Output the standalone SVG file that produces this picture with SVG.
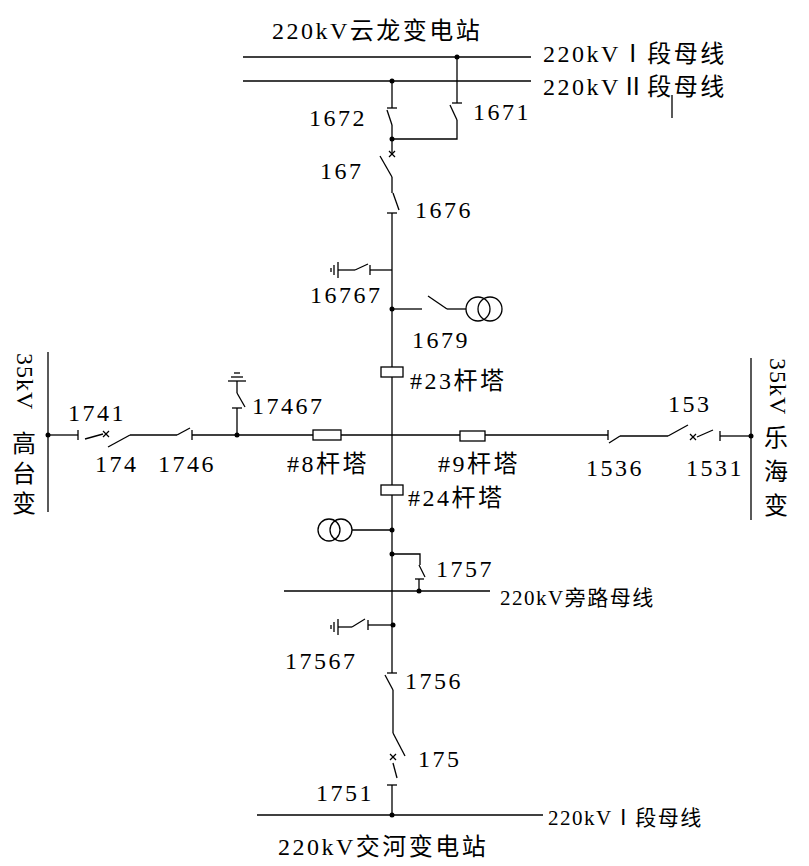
<svg xmlns="http://www.w3.org/2000/svg" width="809" height="866" viewBox="0 0 809 866">
<style>
line,polyline,path{stroke:#000;stroke-width:1.3;fill:none}
circle.t{stroke:#000;stroke-width:1.3;fill:none}
circle.d{fill:#000}
rect{fill:#fff;stroke:#000;stroke-width:1.3}
text{font-family:"Liberation Serif","Noto Sans CJK SC",serif;font-size:24px;letter-spacing:2.5px;fill:#000}
.s{font-size:21px;letter-spacing:1.5px}
.v{letter-spacing:1px}
</style>
<rect x="0" y="0" width="809" height="866" style="fill:#fff;stroke:none"/>
<g id="connectors">
<line x1="243" y1="57" x2="531" y2="57"/>
<line x1="243" y1="81" x2="531" y2="81"/>
<line x1="672" y1="95" x2="672" y2="118"/>
<line x1="392" y1="81" x2="392" y2="108"/>
<line x1="387" y1="108" x2="397" y2="108"/>
<line x1="387" y1="110" x2="392" y2="125"/>
<polyline points="392,125 392,139 457,139 457,120"/>
<line x1="450" y1="105" x2="457" y2="120"/>
<line x1="457" y1="57" x2="457" y2="103"/>
<line x1="452" y1="103" x2="462" y2="103"/>
<line x1="392" y1="139" x2="392" y2="154"/>
<line x1="389" y1="151" x2="395" y2="157"/>
<line x1="395" y1="151" x2="389" y2="157"/>
<line x1="380" y1="156" x2="392" y2="177"/>
<line x1="392" y1="177" x2="392" y2="193"/>
<line x1="393" y1="193" x2="399" y2="210"/>
<line x1="387" y1="213" x2="397" y2="213"/>
<line x1="392" y1="213" x2="392" y2="673"/>
<line x1="392" y1="270" x2="370" y2="270"/>
<line x1="370" y1="265" x2="370" y2="275"/>
<line x1="355" y1="270" x2="368" y2="264"/>
<line x1="355" y1="270" x2="338" y2="270"/>
<line x1="338" y1="262" x2="338" y2="278"/>
<line x1="334" y1="265" x2="334" y2="275"/>
<line x1="331" y1="268" x2="331" y2="272"/>
<line x1="392" y1="309" x2="422" y2="309"/>
<line x1="428" y1="296" x2="447" y2="309"/>
<line x1="447" y1="309" x2="466" y2="309"/>
<line x1="48" y1="435" x2="78" y2="435"/>
<line x1="78" y1="430" x2="78" y2="440"/>
<line x1="85" y1="439" x2="103" y2="434"/>
<line x1="103" y1="431" x2="109" y2="437"/>
<line x1="109" y1="431" x2="103" y2="437"/>
<line x1="108" y1="447" x2="130" y2="435"/>
<line x1="130" y1="435" x2="177" y2="435"/>
<line x1="177" y1="435" x2="190" y2="428"/>
<line x1="192" y1="430" x2="192" y2="440"/>
<line x1="192" y1="435" x2="608" y2="435"/>
<line x1="237" y1="435" x2="237" y2="408"/>
<line x1="232" y1="408" x2="242" y2="408"/>
<line x1="237" y1="393" x2="245" y2="407"/>
<line x1="237" y1="393" x2="237" y2="381"/>
<line x1="228" y1="381" x2="246" y2="381"/>
<line x1="231" y1="377" x2="243" y2="377"/>
<line x1="234" y1="373" x2="240" y2="373"/>
<line x1="608" y1="430" x2="608" y2="440"/>
<line x1="609" y1="443" x2="620" y2="436"/>
<line x1="620" y1="436" x2="668" y2="436"/>
<line x1="668" y1="436" x2="688" y2="425"/>
<line x1="690" y1="434" x2="696" y2="440"/>
<line x1="696" y1="434" x2="690" y2="440"/>
<line x1="697" y1="437" x2="713" y2="430"/>
<line x1="720" y1="431" x2="720" y2="441"/>
<line x1="720" y1="436" x2="751" y2="436"/>
<line x1="48" y1="352" x2="48" y2="512"/>
<line x1="751" y1="358" x2="751" y2="520"/>
<line x1="352" y1="530" x2="392" y2="530"/>
<polyline points="392,554 420,554 420,565"/>
<line x1="419" y1="565" x2="425" y2="577"/>
<line x1="415" y1="579" x2="424" y2="579"/>
<line x1="419" y1="579" x2="419" y2="591"/>
<line x1="284" y1="591" x2="490" y2="591"/>
<line x1="392" y1="625" x2="368" y2="625"/>
<line x1="368" y1="620" x2="368" y2="630"/>
<line x1="352" y1="627" x2="365" y2="619"/>
<line x1="352" y1="627" x2="338" y2="627"/>
<line x1="338" y1="619" x2="338" y2="635"/>
<line x1="334" y1="622" x2="334" y2="632"/>
<line x1="331" y1="625" x2="331" y2="629"/>
<line x1="387" y1="673" x2="397" y2="673"/>
<line x1="385" y1="675" x2="393" y2="690"/>
<line x1="393" y1="690" x2="393" y2="733"/>
<line x1="393" y1="733" x2="405" y2="756"/>
<line x1="390" y1="754" x2="396" y2="760"/>
<line x1="396" y1="754" x2="390" y2="760"/>
<line x1="393" y1="763" x2="397" y2="778"/>
<line x1="387" y1="785" x2="397" y2="785"/>
<line x1="392" y1="785" x2="392" y2="815"/>
<line x1="257" y1="815" x2="543" y2="815"/>
</g>
<g id="dots">
<circle class="d" cx="457" cy="57" r="2.5"/><circle class="d" cx="392" cy="81" r="2.5"/>
<circle class="d" cx="392" cy="139" r="2.5"/><circle class="d" cx="392" cy="309" r="2.5"/>
<circle class="d" cx="48" cy="435" r="2.5"/><circle class="d" cx="237" cy="435" r="2.5"/>
<circle class="d" cx="751" cy="436" r="2.5"/><circle class="d" cx="392" cy="530" r="2.5"/>
<circle class="d" cx="392" cy="554" r="2.5"/><circle class="d" cx="419" cy="591" r="2.5"/>
<circle class="d" cx="393" cy="625" r="2.5"/><circle class="d" cx="392" cy="815" r="2.5"/>
</g>
<g id="pt1"><circle class="t" cx="478" cy="309" r="12"/><circle class="t" cx="490" cy="309" r="12"/></g>
<g id="pt2"><circle class="t" cx="329" cy="530" r="11"/><circle class="t" cx="341" cy="530" r="11"/></g>
<g id="tower23"><rect x="381" y="367" width="22" height="10"/></g>
<g id="tower24"><rect x="381" y="485" width="22" height="10"/></g>
<g id="tower8"><rect x="313" y="430" width="28" height="10"/></g>
<g id="tower9"><rect x="460" y="431" width="25" height="10"/></g>
<g id="labels">
<text x="272" y="39">220kV云龙变电站</text>
<text x="543" y="62">220kVⅠ段母线</text>
<text x="543" y="95">220kVⅡ段母线</text>
<text x="309" y="126">1672</text>
<text x="473" y="120">1671</text>
<text x="320" y="179">167</text>
<text x="415" y="218">1676</text>
<text x="310" y="303">16767</text>
<text x="412" y="348">1679</text>
<text x="410" y="389">#23杆塔</text>
<text x="68" y="421">1741</text>
<text x="252" y="414">17467</text>
<text x="95" y="472">174</text>
<text x="158" y="472">1746</text>
<text x="287" y="472">#8杆塔</text>
<text x="438" y="472">#9杆塔</text>
<text x="586" y="476">1536</text>
<text x="668" y="412">153</text>
<text x="686" y="476">1531</text>
<text x="408" y="506">#24杆塔</text>
<text x="436" y="577">1757</text>
<text class="s" x="500" y="605">220kV旁路母线</text>
<text x="285" y="669">17567</text>
<text x="405" y="689">1756</text>
<text x="418" y="767">175</text>
<text x="316" y="801">1751</text>
<text class="s" x="548" y="825">220kVⅠ段母线</text>
<text x="278" y="855">220kV交河变电站</text>
<text class="v" transform="translate(17,353) rotate(90)">35kV</text>
<text x="12" y="452">高</text>
<text x="12" y="482">台</text>
<text x="12" y="512">变</text>
<text class="v" transform="translate(770,358) rotate(90)">35kV</text>
<text x="764" y="446">乐</text>
<text x="764" y="480">海</text>
<text x="764" y="514">变</text>
</g>
</svg>
